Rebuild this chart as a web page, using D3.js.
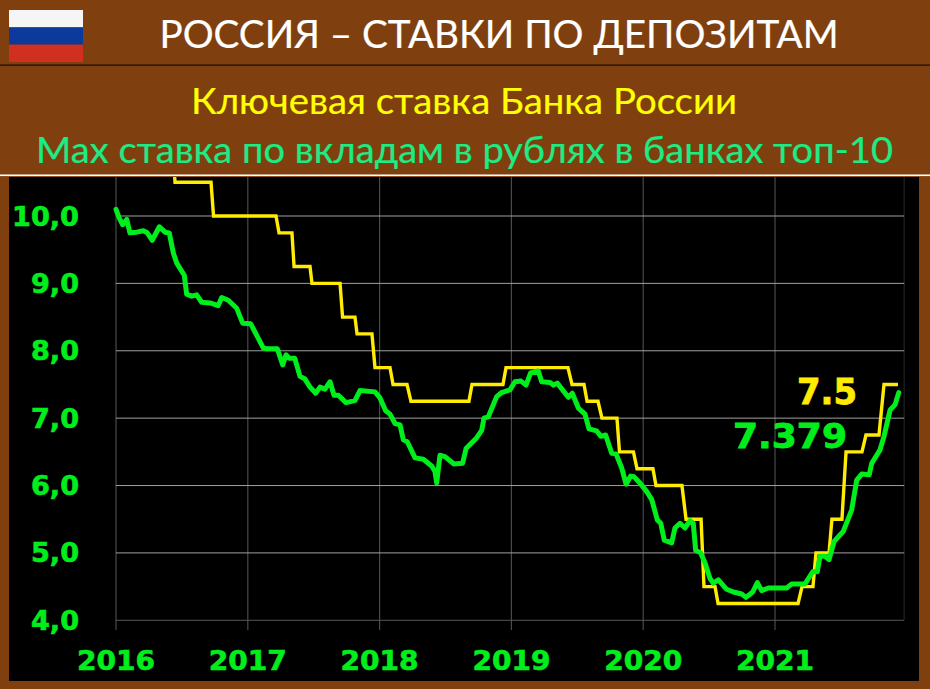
<!DOCTYPE html>
<html><head><meta charset="utf-8">
<script src="https://cdn.jsdelivr.net/npm/d3@7"></script>
<style>html,body{margin:0;padding:0;background:#7f3f0e}svg{display:block}</style>
</head><body><svg id="c" width="930" height="689"></svg>
<script>
const title = "РОССИЯ – СТАВКИ ПО ДЕПОЗИТАМ";
const subtitleKey = "Ключевая ставка Банка России";
const subtitleMax = "Max ставка по вкладам в рублях в банках топ-10";
const yTicks = [4,5,6,7,8,9,10];
const xTicks = [2016,2017,2018,2019,2020,2021];
const xEnd = 2021.98;
const keyLabel = "7.5";
const depLabel = "7.379";
const flagColors = ["#f5f5f5","#0c3a9c","#d12f20"];

// years since 2016
const keyT = [0,.430,.448,.721,.740,1.214,1.237,1.335,1.351,1.472,1.487,1.700,1.719,1.813,1.829,1.942,1.965,2.079,2.102,2.208,2.238,2.678,2.701,2.936,2.959,3.429,3.460,3.551,3.574,3.657,3.687,3.801,3.820,3.926,3.953,4.074,4.097,4.294,4.325,4.439,4.461,4.545,4.568,5.175,5.205,5.288,5.311,5.410,5.432,5.508,5.539,5.660,5.690,5.789,5.827,5.933];
const keyV = [11,11,10.5,10.5,10,10,9.75,9.75,9.25,9.25,9,9,8.5,8.5,8.25,8.25,7.75,7.75,7.5,7.5,7.25,7.25,7.5,7.5,7.75,7.75,7.5,7.5,7.25,7.25,7,7,6.5,6.5,6.25,6.25,6,6,5.5,5.5,4.5,4.5,4.25,4.25,4.5,4.5,5,5,5.5,5.5,6.5,6.5,6.75,6.75,7.5,7.5];

const depT = [0,.025,.051,.081,.106,.157,.207,.237,.275,.329,.372,.404,.435,.461,.518,.536,.574,.612,.650,.713,.776,.802,.852,.916,.961,1.022,1.118,1.143,1.224,1.265,1.290,1.315,1.356,1.396,1.434,1.472,1.515,1.548,1.586,1.624,1.654,1.687,1.745,1.813,1.851,1.965,2.003,2.046,2.079,2.117,2.155,2.180,2.210,2.269,2.332,2.395,2.420,2.433,2.458,2.496,2.564,2.630,2.656,2.737,2.775,2.792,2.825,2.888,2.926,2.989,3.027,3.073,3.111,3.146,3.204,3.230,3.293,3.318,3.348,3.432,3.462,3.508,3.558,3.589,3.647,3.680,3.715,3.761,3.794,3.837,3.870,3.905,3.930,3.970,4.027,4.065,4.107,4.133,4.160,4.216,4.241,4.279,4.317,4.355,4.380,4.398,4.436,4.469,4.507,4.532,4.570,4.633,4.684,4.747,4.780,4.831,4.866,4.899,4.949,5.089,5.127,5.228,5.286,5.321,5.341,5.379,5.410,5.448,5.518,5.582,5.620,5.658,5.715,5.734,5.797,5.827,5.873,5.911,5.939];
const depV = [10.10,9.97,9.87,9.95,9.75,9.76,9.78,9.75,9.64,9.84,9.76,9.75,9.45,9.30,9.12,8.84,8.81,8.83,8.72,8.71,8.67,8.79,8.75,8.63,8.41,8.40,8.04,8.03,8.03,7.79,7.94,7.89,7.89,7.62,7.58,7.46,7.37,7.46,7.43,7.54,7.34,7.34,7.23,7.26,7.41,7.39,7.30,7.11,7.06,6.92,6.90,6.68,6.65,6.41,6.39,6.29,6.21,6.04,6.45,6.43,6.32,6.33,6.55,6.71,6.82,7.00,7.02,7.32,7.38,7.42,7.54,7.55,7.49,7.67,7.70,7.54,7.53,7.49,7.52,7.31,7.37,7.15,7.06,6.84,6.81,6.73,6.75,6.48,6.47,6.26,6.02,6.14,6.13,6.05,5.91,5.79,5.49,5.44,5.19,5.15,5.37,5.44,5.37,5.48,5.44,5.04,5.00,4.85,4.62,4.55,4.60,4.46,4.42,4.39,4.34,4.42,4.56,4.44,4.48,4.48,4.54,4.54,4.72,4.72,4.95,4.95,4.90,5.17,5.32,5.64,6.08,6.17,6.16,6.33,6.53,6.73,7.12,7.20,7.379];

const svg = d3.select("#c");
const brown = "#7f3f0e", green = "#00ee1c", yellow = "#ffec00";
const x = d3.scaleLinear().domain([2016,2022]).range([116,906.8]);
const y = d3.scaleLinear().domain([4,10]).range([620.3,216]);
const fontT = "Lato, 'Open Sans', sans-serif";
const fontB = "'DejaVu Sans', Verdana, sans-serif";

svg.append("rect").attr("width",930).attr("height",689).attr("fill",brown);
svg.append("rect").attr("x",9).attr("y",177).attr("width",910).attr("height",504).attr("fill","#000");
svg.append("rect").attr("x",0).attr("y",64.5).attr("width",930).attr("height",1.2).attr("fill","#111");
svg.append("rect").attr("x",0).attr("y",174.5).attr("width",930).attr("height",1.6).attr("fill","#fff");

// flag
const flagY = d3.scaleBand().domain(d3.range(3)).range([10,62]);
svg.selectAll(".flag").data(flagColors).join("rect").attr("x",9).attr("width",74)
  .attr("y",(d,i)=>flagY(i)).attr("height",flagY.bandwidth()).attr("fill",d=>d);

// titles
function heading(txt,cx,by,size,len,col){
  svg.append("text").attr("x",cx).attr("y",by).attr("text-anchor","middle").attr("fill",col)
    .attr("stroke",col).attr("stroke-width",0.2)
    .attr("font-family",fontT).attr("font-size",size).attr("textLength",len).attr("lengthAdjust","spacingAndGlyphs").text(txt);
}
heading(title,499,48,38,679,"#fff");
heading(subtitleKey,464,114,37,546,"#ffff00");
heading(subtitleMax,464.5,163,37,857,"#1ceb86");

// grid
const plot = svg.append("g");
plot.selectAll(".v").data(xTicks.concat([xEnd])).join("line")
  .attr("x1",d=>x(d)).attr("x2",d=>x(d)).attr("y1",177).attr("y2",d=>d===xEnd?620:630)
  .attr("stroke",d=>d===xEnd?"#222":"#4a4a4a").attr("stroke-width",1.2);
plot.selectAll(".h").data(yTicks).join("line")
  .attr("x1",x(2016)).attr("x2",x(xEnd)).attr("y1",d=>y(d)).attr("y2",d=>y(d))
  .attr("stroke",d=>d===4?"#555":"#a0a0a0").attr("stroke-width",1);

// labels
svg.selectAll(".yl").data(yTicks).join("text").attr("x",79).attr("y",d=>y(d)+9.5)
  .attr("text-anchor","end").attr("fill",green).attr("stroke",green).attr("stroke-width",0.6)
  .attr("font-family",fontB).attr("font-weight","bold").attr("font-size",26.5)
  .attr("textLength",d=>d===10?67:48).attr("lengthAdjust","spacingAndGlyphs")
  .text(d=>d3.format(".1f")(d).replace(".",","));
svg.selectAll(".xl").data(xTicks).join("text").attr("x",d=>x(d)).attr("y",670)
  .attr("text-anchor","middle").attr("fill",green).attr("stroke",green).attr("stroke-width",0.6)
  .attr("font-family",fontB).attr("font-weight","bold").attr("font-size",27)
  .attr("textLength",78).attr("lengthAdjust","spacingAndGlyphs")
  .text(d=>d);

// series
svg.append("clipPath").attr("id","pc").append("rect").attr("x",9).attr("y",177).attr("width",910).attr("height",504);
const line = d3.line().x(d=>x(2016+d[0])).y(d=>y(d[1])).curve(d3.curveLinear);
const g = svg.append("g").attr("clip-path","url(#pc)");
g.append("path").attr("d",line(d3.zip(keyT,keyV))).attr("fill","none").attr("stroke",yellow).attr("stroke-width",3.4).attr("stroke-linejoin","miter");
g.append("path").attr("d",line(d3.zip(depT,depV))).attr("fill","none").attr("stroke",green).attr("stroke-width",5).attr("stroke-linejoin","round").attr("stroke-linecap","round");

// end labels
svg.append("text").attr("x",857).attr("y",404).attr("text-anchor","end").attr("fill",yellow).attr("stroke",yellow).attr("stroke-width",0.8)
  .attr("font-family",fontB).attr("font-weight","bold").attr("font-size",35).attr("textLength",60).attr("lengthAdjust","spacingAndGlyphs").text(keyLabel);
svg.append("text").attr("x",847).attr("y",448).attr("text-anchor","end").attr("fill",green).attr("stroke",green).attr("stroke-width",0.8)
  .attr("font-family",fontB).attr("font-weight","bold").attr("font-size",33).attr("textLength",114).attr("lengthAdjust","spacingAndGlyphs").text(depLabel);
</script></body></html>
